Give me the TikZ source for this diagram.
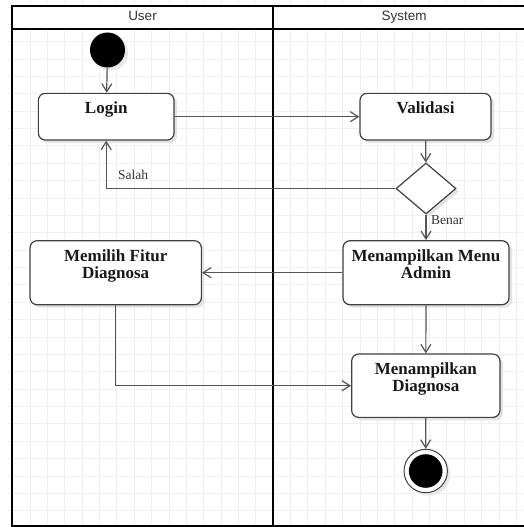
\documentclass[tikz,border=0pt]{standalone}
\usepackage{fontspec}
\setmainfont{Liberation Serif}
\newfontfamily\lanefont{Liberation Sans}
\usetikzlibrary{arrows.meta,shapes.geometric,shadows}

\definecolor{gridgray}{HTML}{EFEFEF}
\definecolor{edgegray}{HTML}{555555}
\definecolor{boxgray}{HTML}{404040}
\definecolor{textgray}{HTML}{333333}

\tikzset{
  gridline/.style={draw=gridgray, line width=0.9pt},
  laneline/.style={draw=black, line width=2pt},
  lanetitle/.style={font=\lanefont\fontsize{13.5}{14}\selectfont, text=textgray, anchor=base, inner sep=0pt},
  softshadow/.style={drop shadow={shadow xshift=3pt, shadow yshift=-3pt, fill=black!11, opacity=1}},
  actbox/.style={rectangle, rounded corners=7pt, draw=boxgray, fill=white, line width=1.2pt, softshadow, inner sep=0pt},
  boxtext/.style={font=\bfseries\fontsize{17}{17.3}\selectfont, align=center, inner sep=0pt, text=black!90},
  decision/.style={diamond, draw=boxgray, fill=white, line width=1.2pt, softshadow, inner sep=0pt, minimum width=60pt, minimum height=51pt, aspect=1.176},
  flow/.style={draw=edgegray, line width=1.2pt, -{Straight Barb[length=8pt, width=10pt, line width=1.2pt]}},
  guard/.style={font=\fontsize{13.5}{14}\selectfont, text=textgray, inner sep=0pt, anchor=base west},
}

\begin{document}
\begin{tikzpicture}[x=1pt, y=-1pt]
  \useasboundingbox (0,0) rectangle (523,527);
  \fill[white] (0,0) rectangle (523,527);

  % background grid
  \foreach \i in {0,...,29}
    \draw[gridline] ({12.63+\i*17.37},0) -- ({12.63+\i*17.37},527);
  \foreach \j in {0,...,30}
    \draw[gridline] (8,{6.96+\j*17.37}) -- (523,{6.96+\j*17.37});

  % swimlanes
  \fill[white] (12,6) rectangle (535,29);
  \draw[laneline] (535,6) -- (12,6) -- (12,526) -- (535,526);
  \draw[laneline] (12,29) -- (535,29);
  \draw[laneline] (273,6) -- (273,526);
  \draw[laneline] (535,6) -- (535,526);
  \node[lanetitle] (laneuser) at (142.5,20.8) {User};
  \node[lanetitle] (lanesys) at (404,20.8) {System};

  % start state
  \node[circle, fill=black, minimum size=35pt, inner sep=0pt,
        drop shadow={shadow xshift=3pt, shadow yshift=-3pt, fill=black!9, opacity=1}]
        (start) at (107.5,50) {};

  % activities
  \node[actbox, minimum width=135.7pt, minimum height=46.7pt] (login) at (106.2,116.7) {};
  \node[boxtext, anchor=base] (logintxt) at (106.2,113) {Login};

  \node[actbox, minimum width=131pt, minimum height=46.7pt] (valid) at (425.5,116.7) {};
  \node[boxtext, anchor=base] (validtxt) at (425.5,113) {Validasi};

  \node[decision] (dec) at (426,188.5) {};

  \node[actbox, minimum width=166pt, minimum height=64pt] (admin) at (426,272.7) {};
  \node[boxtext, anchor=north] (admintxt) at (426,249.5) {Menampilkan Menu\\Admin};

  \node[actbox, minimum width=171.3pt, minimum height=64pt] (pilih) at (115.7,272.7) {};
  \node[boxtext, anchor=north] (pilihtxt) at (115.7,249.5) {Memilih Fitur\\Diagnosa};

  \node[actbox, minimum width=148.3pt, minimum height=63.3pt] (diag) at (425.8,385.7) {};
  \node[boxtext, anchor=north] (diagtxt) at (425.8,362) {Menampilkan\\Diagnosa};

  % final state
  \node[circle, draw=boxgray, fill=white, line width=1pt, minimum size=43.4pt, inner sep=0pt,
        drop shadow={shadow xshift=3pt, shadow yshift=-3pt, fill=black!9, opacity=1}]
        (final) at (425.7,471) {};
  \node[circle, fill=black, minimum size=33.6pt, inner sep=0pt] (finaldot) at (final.center) {};

  % control flow
  \draw[flow] (start) -- (login);
  \draw[flow] (login) -- (valid);
  \draw[flow] (valid) -- (dec);
  \draw[flow] (dec.west) -| (login.south);
  \draw[flow] (dec) -- (admin);
  \draw[flow] (admin) -- (pilih);
  \draw[flow] (admin) -- (diag);
  \draw[flow] (pilih.south) |- (diag.west);
  \draw[flow] (diag) -- (final);

  % guards
  \node[guard] (salah) at (118,179.3) {Salah};
  \node[guard] (benar) at (431,224.3) {Benar};
\end{tikzpicture}
\end{document}
